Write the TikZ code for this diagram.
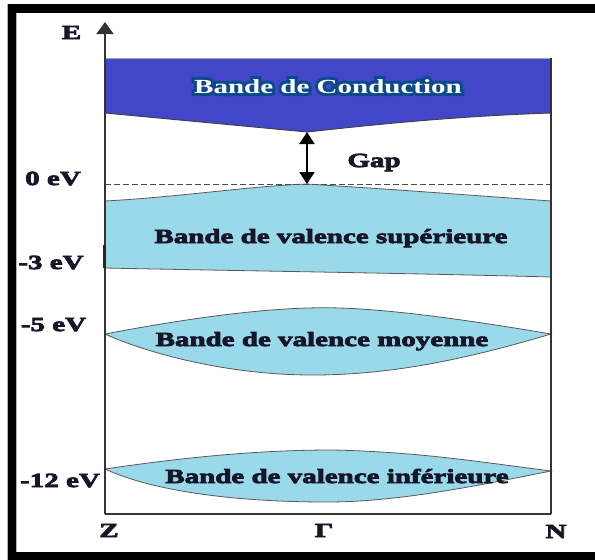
\documentclass[tikz,border=0pt]{standalone}
\usepackage{fontspec}
\setmainfont{Liberation Serif}[FakeStretch=1.45,FakeBold=4]
\newfontfamily\glowfont{Liberation Serif}[FakeStretch=1.45,FakeBold=30]
\newfontfamily\whitefont{Liberation Serif}[FakeStretch=1.45]
\usetikzlibrary{arrows.meta}
\definecolor{condblue}{RGB}{66,70,200}
\definecolor{valblue}{RGB}{153,217,234}
\definecolor{glow}{RGB}{12,72,140}
\definecolor{ink}{RGB}{22,22,40}
\newcommand{\glowtext}[1]{\rlap{\color{glow}\glowfont\bfseries #1}\textcolor{white}{\whitefont\bfseries #1}}
\begin{document}
\begin{tikzpicture}[x=1pt,y=-1pt,
  lbl/.style={font=\bfseries\fontsize{20}{24}\selectfont, text=ink, inner sep=0pt, anchor=base},
  bandfill/.style={fill=valblue, draw=black!65, line width=0.8pt},
  axisline/.style={draw=black!80, line width=2pt}]
\useasboundingbox (0,0) rectangle (595,560);
% outer frame
\begin{scope}
  \clip (0,0) rectangle (595,560);
  \draw[gray!60, line width=9.5pt] (12,8.5) rectangle (640,556.5);
  \draw[black, line width=8.5pt] (12,8.5) rectangle (640,556.5);
\end{scope}
% conduction band
\fill[condblue] (105,58) -- (551,58) -- (551,113)
  .. controls (460,116) and (380,124) .. (307,132) -- (105,113) -- cycle;
\draw[gray!70, line width=0.8pt] (105,113) -- (105,58) -- (551,58) -- (551,113);
\draw[black!75, line width=0.9pt] (105,113) -- (307,132)
  .. controls (380,124) and (460,116) .. (551,113);
% upper valence band
\filldraw[bandfill] (105,201) .. controls (180,197) and (250,186) .. (307,184)
  .. controls (400,190) .. (551,201) -- (551,277)
  .. controls (400,273) and (250,271) .. (105,268) -- cycle;
% middle valence band
\filldraw[bandfill] (105,334) .. controls (200,316) and (280,306) .. (340,308)
  .. controls (400,310) and (480,322) .. (551,334)
  .. controls (480,355) and (400,375) .. (313,375)
  .. controls (220,375) and (140,350) .. (105,334) -- cycle;
% lower valence band
\filldraw[bandfill] (105,469) .. controls (200,455) and (270,450) .. (333,450)
  .. controls (420,452) and (480,462) .. (551,471)
  .. controls (480,485) and (400,502) .. (327,502)
  .. controls (230,502) and (150,490) .. (105,469) -- cycle;
% coordinates
\coordinate (origin) at (105,514);
\coordinate (ytop) at (105,22);
\coordinate (xend) at (551,514);
\coordinate (rtop) at (551,58);
\coordinate (zero) at (105,184);
\coordinate (zeroR) at (553,184);
\coordinate (gapT) at (307,132);
\coordinate (gapB) at (307,184);
% fermi level
\draw[black!70, line width=0.9pt, dash pattern=on 6pt off 3pt] (zero) -- (zeroR);
% axes
\draw[axisline] (xend) -- (origin);
\draw[draw=black!80, line width=1.6pt] (rtop) -- (xend);
\draw[axisline, -{Triangle[width=17pt,length=12pt]}] (origin) -- (ytop);
\draw[black!85, line width=3pt] (104,245) -- (104,268);
% gap arrow
\draw[black, line width=2pt, {Triangle[width=15pt,length=12pt]}-{Triangle[width=15pt,length=12pt]}] (gapT) -- (gapB);
% band texts
\node[lbl] (cond) at (328,93) {\glowtext{Bande de Conduction}};
\node[lbl] (gap) at (374,167) {Gap};
\node[lbl] (vsup) at (331,243) {Bande de valence supérieure};
\node[lbl] (vmoy) at (322,346) {Bande de valence moyenne};
\node[lbl] (vinf) at (337,483) {Bande de valence inférieure};
% axis labels
\node[lbl] (E) at (71.5,39) {E};
\node[lbl] (l0) at (53,185) {0 eV};
\node[lbl] (l3) at (51,269) {-3 eV};
\node[lbl] (l5) at (53.5,331) {-5 eV};
\node[lbl] (l12) at (60,487) {-12 eV};
\node[lbl] (Z) at (109,537) {Z};
\node[lbl] (G) at (324,537) {Γ};
\node[lbl] (N) at (556,538) {N};
\end{tikzpicture}
\end{document}
